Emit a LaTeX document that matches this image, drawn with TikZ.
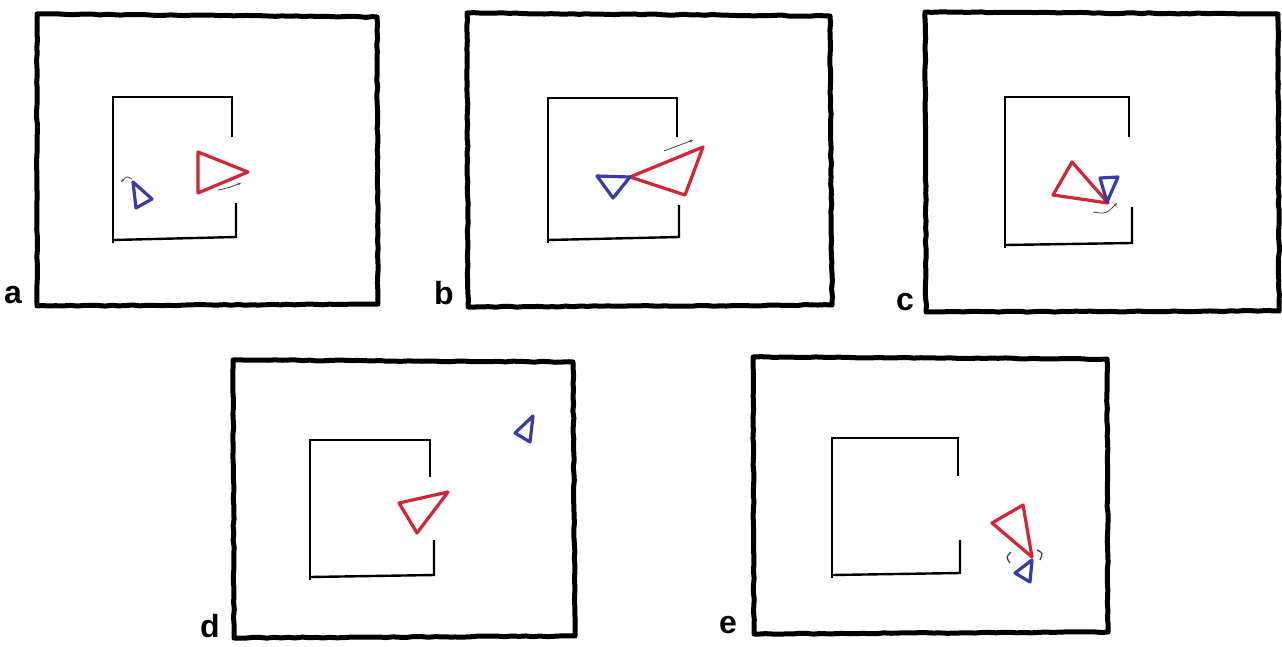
\documentclass[tikz,border=0pt]{standalone}
\usepackage{fontspec}
\setmainfont{Liberation Sans}
\usetikzlibrary{arrows.meta,decorations.pathmorphing}
\definecolor{tred}{RGB}{210,38,52}
\definecolor{tblue}{RGB}{58,58,168}
\definecolor{mgray}{RGB}{70,70,70}
\begin{document}
\begin{tikzpicture}[x=1pt,y=-1pt,
  outer/.style={line width=5pt,line join=round,line cap=round,
    decorate,decoration={random steps,segment length=7pt,amplitude=0.5pt}},
  inner/.style={line width=2.4pt,line join=miter},
  redtri/.style={draw=tred,line width=3.2pt,line join=round},
  bluetri/.style={draw=tblue,line width=3.2pt,line join=round},
  motion/.style={mgray,line width=0.8pt,-{Stealth[length=3.5pt,width=3pt]}},
  plabel/.style={font=\bfseries\fontsize{32}{32}\selectfont,anchor=base west,inner sep=0pt}]
\useasboundingbox (0,0) rectangle (1282,646);
\fill[white] (0,0) rectangle (1282,646);

% ---------- panel a ----------
\draw[outer] (37,14) -- (377,17) -- (378,304) -- (37,306) -- cycle;
\draw[inner] (232,137) -- (232,97) -- (113,97) -- (113,243);
\draw[inner] (113,240) -- (236,237) -- (236,203);
\draw[redtri] (198,152) -- (248,172) -- (198,193) -- cycle;
\draw[bluetri] (133,182) -- (152,199) -- (136,208) -- cycle;
\draw[motion] (218,190) .. controls (228,188) .. (241,183);
\draw[motion] (132,179) .. controls (127,176) .. (121,182);
\node[plabel] (la) at (4,303) {a};

% ---------- panel b ----------
\draw[outer] (467,13) -- (830,16) -- (832,305) -- (468,307) -- cycle;
\draw[inner] (677,137) -- (677,98) -- (548,98) -- (548,243);
\draw[inner] (548,240) -- (679,237) -- (679,205);
\draw[redtri] (630,177) -- (703,147) -- (685,195) -- cycle;
\draw[bluetri] (597,176) -- (630,177) -- (613,198) -- cycle;
\draw[motion] (664,151) .. controls (678,146) .. (693,140);
\draw[mgray,line width=0.6pt] (620,191) -- (616,197);
\node[plabel] (lb) at (434,304) {b};

% ---------- panel c ----------
\draw[outer] (925,12) -- (1278,14) -- (1279,311) -- (926,312) -- cycle;
\draw[inner] (1129,137) -- (1129,97) -- (1005,97) -- (1005,248);
\draw[inner] (1005,245) -- (1132,243) -- (1132,207);
\draw[redtri] (1072,162) -- (1053,195) -- (1108,203) -- cycle;
\draw[bluetri] (1100,178) -- (1118,177) -- (1107,202) -- cycle;
\draw[motion] (1093,212) .. controls (1106,214) .. (1117,203);
\node[plabel] (lc) at (896,310) {c};

% ---------- panel d ----------
\draw[outer] (233,360) -- (573,362) -- (575,636) -- (234,638) -- cycle;
\draw[inner] (430,477) -- (430,440) -- (310,440) -- (310,580);
\draw[inner] (310,577) -- (434,575) -- (434,540);
\draw[redtri] (399,503) -- (448,492) -- (417,533) -- cycle;
\draw[bluetri] (533,416) -- (515,433) -- (530,442) -- cycle;
\node[plabel] (ld) at (200,637) {d};

% ---------- panel e ----------
\draw[outer] (753,357) -- (1107,359) -- (1108,632) -- (754,634) -- cycle;
\draw[inner] (958,476) -- (958,438) -- (832,438) -- (832,578);
\draw[inner] (832,575) -- (960,573) -- (960,540);
\draw[redtri] (992,523) -- (1023,505) -- (1032,557) -- cycle;
\draw[bluetri] (1032,560) -- (1030,582) -- (1015,573) -- cycle;
\draw[mgray,line width=1.3pt] (1011,552) .. controls (1006,557) .. (1010,563);
\draw[mgray,line width=1.3pt] (1037,550) .. controls (1043,553) .. (1040,560);
\node[plabel] (le) at (719,633) {e};
\end{tikzpicture}
\end{document}
